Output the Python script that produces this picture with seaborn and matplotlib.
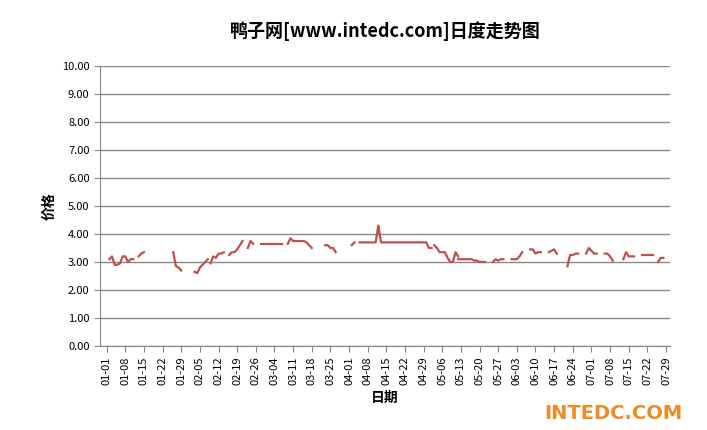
import matplotlib
matplotlib.use("Agg")
import matplotlib.pyplot as plt
import seaborn as sns
import numpy as np
import pandas as pd

plt.rcParams["font.family"] = ["Noto Sans CJK SC", "DejaVu Sans"]

start_day = "2020-01-01"
n_days = 212
# (day offset from 01-01, consecutive daily prices)
seg_starts = [1, 12, 25, 33, 39, 46, 53, 58, 68, 82, 92, 95, 123, 132, 145, 152, 159, 166, 173, 180, 187, 194, 201, 207]
seg_values = [
    [3.1, 3.2, 2.9, 2.9, 2.95, 3.2, 3.2, 3.0, 3.1, 3.1],
    [3.2, 3.3, 3.35],
    [3.35, 2.85, 2.8, 2.7],
    [2.65, 2.6, 2.8, 2.9, 3.0, 3.1],
    [2.95, 3.2, 3.15, 3.3, 3.3, 3.35],
    [3.25, 3.35, 3.35, 3.45, 3.6, 3.75],
    [3.5, 3.75, 3.65],
    [3.65] * 9,
    [3.65, 3.85, 3.75, 3.75, 3.75, 3.75, 3.75, 3.7, 3.6, 3.5],
    [3.6, 3.6, 3.5, 3.5, 3.35],
    [3.6, 3.7],
    [3.7] * 7 + [4.3, 3.7] + [3.7] * 17 + [3.5, 3.5],
    [3.6, 3.5, 3.35, 3.35, 3.35, 3.15, 3.0, 3.0, 3.35, 3.2],
    [3.1, 3.1, 3.1, 3.1, 3.1, 3.1, 3.05, 3.05, 3.0, 3.0, 3.0],
    [3.0, 3.1, 3.05, 3.1, 3.1],
    [3.1, 3.1, 3.1, 3.2, 3.35],
    [3.45, 3.45, 3.3, 3.35, 3.35],
    [3.35, 3.4, 3.45, 3.3],
    [2.85, 3.25, 3.25, 3.3, 3.3],
    [3.3, 3.5, 3.4, 3.3, 3.3],
    [3.3, 3.3, 3.2, 3.05],
    [3.1, 3.35, 3.2, 3.2, 3.2],
    [3.25, 3.25, 3.25, 3.25, 3.25],
    [3.0, 3.15, 3.15],
]
y_ticks = [0, 1, 2, 3, 4, 5, 6, 7, 8, 9, 10]

dates = pd.date_range(start_day, periods=n_days, freq="D")
rows = []
for i, (s, vals) in enumerate(zip(seg_starts, seg_values)):
    for k, v in enumerate(vals):
        rows.append({"date": dates[s + k], "price": v, "seg": i})
df = pd.DataFrame(rows)

fig = plt.figure(figsize=(7.07, 4.30), dpi=100)
ax = fig.add_axes([100 / 707, 84 / 430, 570 / 707, 280 / 430])
sns.lineplot(data=df, x="date", y="price", units="seg", estimator=None, ax=ax,
             color="#C0504D", linewidth=1.6)
ax.set_xlim(dates[0] - pd.Timedelta(days=2.5), dates[-1] + pd.Timedelta(days=0.5))
ax.set_ylim(0, 10)
ax.set_yticks(y_ticks)
ax.set_yticklabels([f"{v:.2f}" for v in y_ticks], fontsize=8)
xt = dates[::7]
ax.set_xticks(xt)
ax.set_xticklabels([d.strftime("%m-%d") for d in xt], rotation=90, fontsize=8)
ax.grid(axis="y", color="#888888", linewidth=1)
ax.set_axisbelow(True)
for s in ["top", "right"]:
    ax.spines[s].set_visible(False)
ax.spines["left"].set_color("#888888")
ax.spines["bottom"].set_color("#888888")
ax.tick_params(axis="x", length=4, color="#888888")
ax.tick_params(axis="y", length=4, color="#888888")
ax.set_xlabel("日期", fontsize=10, fontweight="bold")
ax.set_ylabel("价格", fontsize=10, fontweight="bold")
fig.text(0.545, 0.915, "鸭子网[www.intedc.com]日度走势图", ha="center", fontsize=13, fontweight="bold")
fig.text(0.965, 0.025, "INTEDC.COM", ha="right", fontsize=14, fontweight="bold", color="#F08A24", family="DejaVu Sans")
fig.savefig("out.png", dpi=100)
